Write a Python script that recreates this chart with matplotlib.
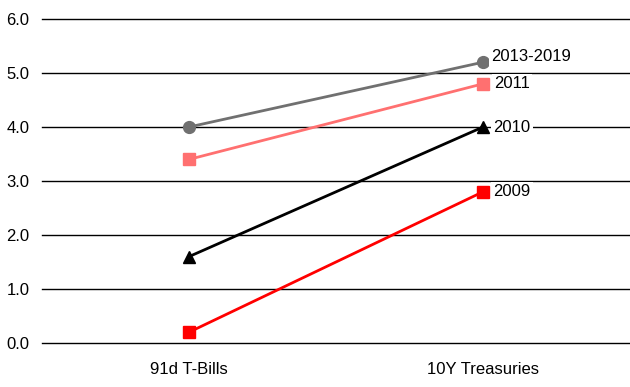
import matplotlib.pyplot as plt

plt.rcParams['font.family'] = ['Liberation Sans', 'DejaVu Sans']

categories = ["91d T-Bills", "10Y Treasuries"]
series_names = ["2013-2019", "2011", "2010", "2009"]
rates_2013_2019 = [4.0, 5.2]
rates_2011 = [3.4, 4.8]
rates_2010 = [1.6, 4.0]
rates_2009 = [0.2, 2.8]
y_ticks = [0.0, 1.0, 2.0, 3.0, 4.0, 5.0, 6.0]

# color, marker, marker size, label offset (x, y) in points
styles = [
    ("#707070", "o", 8.5, (6, 4)),
    ("#FF7070", "s", 8, (8, 0)),
    ("#000000", "^", 8.5, (7.5, 0)),
    ("#FF0000", "s", 8, (7.5, 0)),
]
all_series = [rates_2013_2019, rates_2011, rates_2010, rates_2009]

fig = plt.figure(figsize=(6.3, 3.87), dpi=100)
ax = fig.add_axes([42 / 630, 1 - 343 / 387, 1 - 42 / 630, (343 - 19) / 387])

for y in y_ticks:
    ax.axhline(y, color="#000000", linewidth=1.0, zorder=1, clip_on=False)

x = list(range(len(categories)))
for name, values, (color, marker, ms, offset) in zip(series_names, all_series, styles):
    ax.plot(x, values, color=color, linewidth=2.0, marker=marker, markersize=ms,
            zorder=3, clip_on=False)
    ax.annotate(name, (x[-1], values[-1]), xytext=offset, textcoords="offset points",
                ha="left", va="center", fontsize=12, color="#000000", zorder=4,
                bbox=dict(facecolor="white", edgecolor="none", pad=1.5))

ax.set_xlim(-0.5, 1.5)
ax.set_ylim(0, 6)
ax.set_xticks(x)
ax.set_xticklabels(categories, fontsize=12)
ax.set_yticks(y_ticks)
ax.set_yticklabels([f"{v:.1f}" for v in y_ticks], fontsize=12)
ax.tick_params(axis="both", length=0)
ax.tick_params(axis="y", pad=9)
ax.tick_params(axis="x", pad=14)
for spine in ax.spines.values():
    spine.set_visible(False)

fig.savefig("out.png", dpi=100, facecolor="white")
